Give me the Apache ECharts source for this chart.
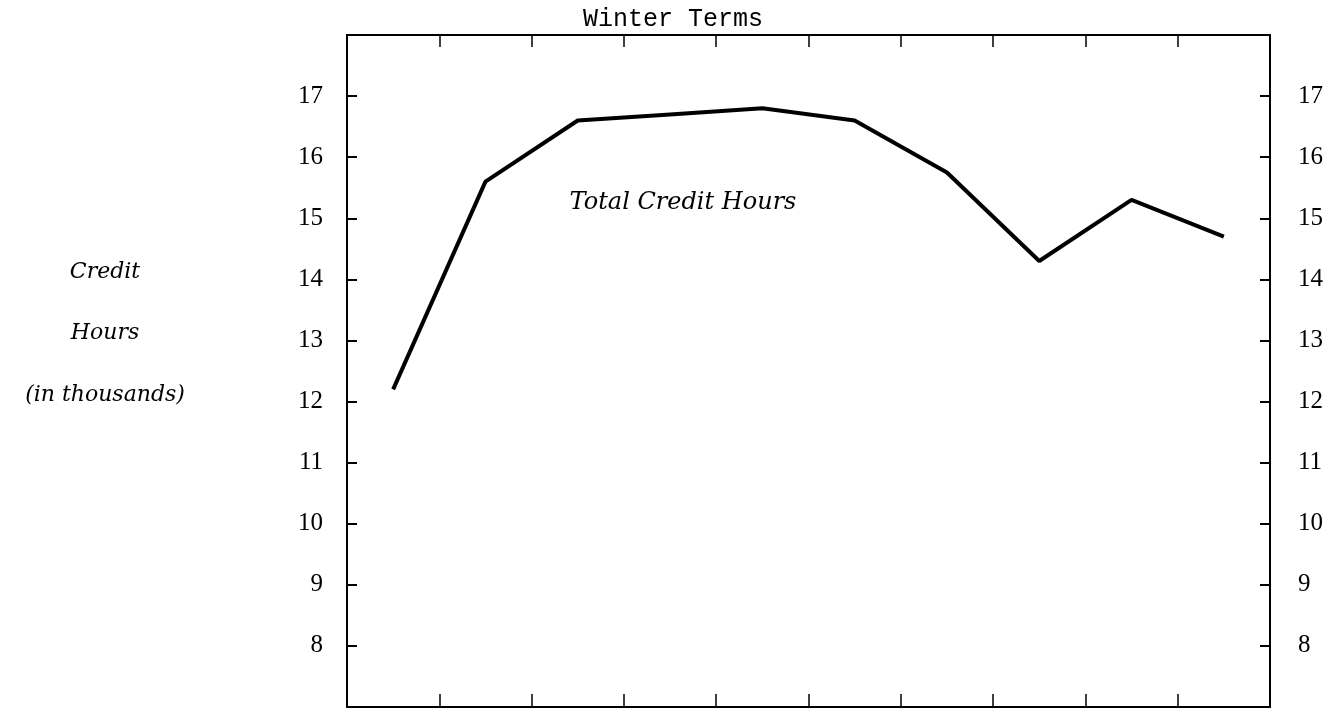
<!DOCTYPE html>
<html>
<head>
<meta charset="utf-8">
<script src="https://cdn.jsdelivr.net/npm/echarts@6/dist/echarts.min.js"></script>
<style>
  html, body { margin: 0; padding: 0; background: #fff; }
  #main { width: 1341px; height: 711px; }
</style>
</head>
<body>
<div id="main"></div>
<script>
// winter terms (unlabelled on the original chart)
var terms = ['T1', 'T2', 'T3', 'T4', 'T5', 'T6', 'T7', 'T8', 'T9', 'T10'];
// total credit hours, in thousands
var creditHours = [12.2, 15.6, 16.6, 16.7, 16.8, 16.6, 15.75, 14.3, 15.3, 14.7];
// y axis range and the labelled ticks
var yMin = 7, yMax = 18, yStep = 1;
var yLabels = [8, 9, 10, 11, 12, 13, 14, 15, 16, 17];

var chartDom = document.getElementById('main');
var myChart = echarts.init(chartDom, null, {renderer: 'canvas'});

var serif = "'Liberation Serif', 'DejaVu Serif', serif";
var italicFont = "'DejaVu Serif', 'Liberation Serif', serif";

function yLabel(v) {
    return yLabels.indexOf(v) >= 0 ? String(v) : '';
}

var frameLine = {show: true, onZero: false, lineStyle: {color: '#000', width: 2}};

var option = {
    animation: false,
    backgroundColor: '#fff',
    grid: {
        left: 347, right: 71, top: 35, bottom: 4,
        containLabel: false,
        outerBoundsMode: 'none'
    },
    xAxis: [
        {
            type: 'category',
            data: terms,
            position: 'bottom',
            boundaryGap: true,
            axisLine: frameLine,
            axisTick: {show: true, inside: true, length: 13, lineStyle: {color: '#000', width: 1.5}},
            axisLabel: {show: false},
            splitLine: {show: false}
        },
        {
            type: 'category',
            data: terms,
            position: 'top',
            boundaryGap: true,
            axisLine: frameLine,
            axisTick: {show: true, inside: true, length: 12, lineStyle: {color: '#000', width: 1.5}},
            axisLabel: {show: false},
            splitLine: {show: false}
        }
    ],
    yAxis: [
        {
            type: 'value',
            position: 'left',
            min: yMin, max: yMax, interval: yStep,
            axisLine: frameLine,
            axisTick: {show: true, inside: true, length: 10, lineStyle: {color: '#000', width: 2}},
            axisLabel: {
                margin: 24,
                formatter: yLabel,
                color: '#000',
                fontFamily: serif,
                fontSize: 25
            },
            splitLine: {show: false}
        },
        {
            type: 'value',
            position: 'right',
            min: yMin, max: yMax, interval: yStep,
            axisLine: frameLine,
            axisTick: {show: true, inside: true, length: 10, lineStyle: {color: '#000', width: 2}},
            axisLabel: {
                margin: 28,
                formatter: yLabel,
                color: '#000',
                fontFamily: serif,
                fontSize: 25
            },
            splitLine: {show: false}
        }
    ],
    graphic: [
        {
            type: 'text', x: 673, y: 19,
            style: {
                text: 'Winter Terms', fill: '#000',
                font: "25px 'Liberation Mono', 'DejaVu Sans Mono', monospace",
                align: 'center', verticalAlign: 'middle'
            }
        },
        {
            type: 'text', x: 683, y: 203,
            style: {
                text: 'Total Credit Hours', fill: '#000',
                font: 'italic 24px ' + italicFont,
                align: 'center', verticalAlign: 'middle'
            }
        },
        {
            type: 'text', x: 105, y: 272,
            style: {text: 'Credit', fill: '#000', font: 'italic 22px ' + italicFont, align: 'center', verticalAlign: 'middle'}
        },
        {
            type: 'text', x: 105, y: 333,
            style: {text: 'Hours', fill: '#000', font: 'italic 22px ' + italicFont, align: 'center', verticalAlign: 'middle'}
        },
        {
            type: 'text', x: 105, y: 395,
            style: {text: '(in thousands)', fill: '#000', font: 'italic 22px ' + italicFont, align: 'center', verticalAlign: 'middle'}
        }
    ],
    series: [
        {
            name: 'Total Credit Hours',
            type: 'line',
            xAxisIndex: 0,
            yAxisIndex: 0,
            data: creditHours,
            symbol: 'none',
            lineStyle: {color: '#000', width: 4},
            z: 3
        }
    ]
};

myChart.setOption(option);
</script>
</body>
</html>
